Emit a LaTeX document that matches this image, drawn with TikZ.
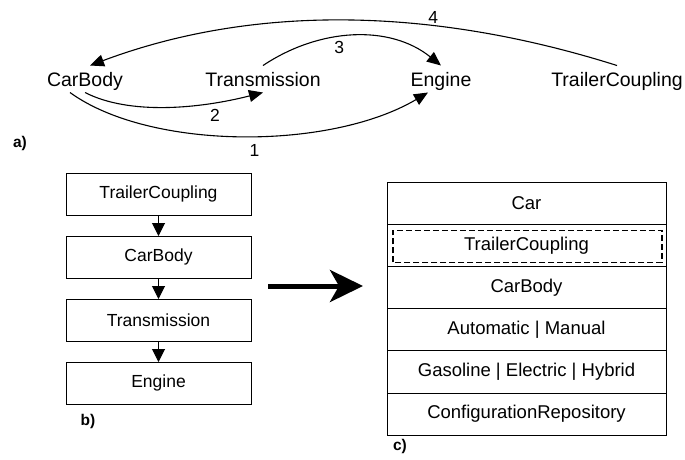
\documentclass[tikz,border=0pt]{standalone}
\usepackage{fontspec}
\setmainfont{Liberation Sans}
\usetikzlibrary{arrows.meta,positioning}

\begin{document}
\begin{tikzpicture}[x=1pt,y=-1pt,line width=1pt,node distance=21pt,
    word/.style={inner xsep=0pt,inner ysep=6pt,text height=14pt,text depth=0pt,font=\fontsize{19.5}{23}\selectfont},
    num/.style={inner sep=1pt,font=\fontsize{17.5}{21}\selectfont},
    dep/.style={line width=1.1pt,-{Triangle[length=14pt,width=12pt]}},
    stackbox/.style={draw,minimum width=185pt,minimum height=42pt,outer sep=0pt,font=\fontsize{17.5}{21}\selectfont},
    stacklink/.style={line width=1pt,-{Triangle[length=13pt,width=13pt]}},
    rowbox/.style={draw,minimum width=279pt,minimum height=42.2pt,outer sep=0pt,font=\fontsize{18.5}{22}\selectfont},
    optbox/.style={draw,dashed,dash pattern=on 6pt off 3pt,line width=1.2pt},
    bigarrow/.style={line width=5pt,-{Stealth[length=33pt,width=32pt,inset=9pt]}},
    sublabel/.style={font=\bfseries\fontsize{15.5}{18}\selectfont}]
  \useasboundingbox (0,0) rectangle (685,459);

  % a) feature dependencies
  \node[word] (CB) at (85,79) {CarBody};
  \node[word] (TR) at (263,79) {Transmission};
  \node[word] (EN) at (441,79) {Engine};
  \node[word] (TC) at (617,79) {TrailerCoupling};
  \node[sublabel] (LA) at (20,143) {a)};

  \draw[dep] ([xshift=-15pt]CB.south) .. controls +(80,58) and +(-98,58) .. ([xshift=-13pt]EN.south)
    node[num,pos=0.53,below=7pt] {1};
  \draw[dep] (CB.south) .. controls +(45,23) and +(-63,16) .. (TR.south)
    node[num,pos=0.75,below=5pt] {2};
  \draw[dep] (TR.north) .. controls +(57,-38) and +(-51,-41) .. (EN.north)
    node[num,pos=0.42,below=3pt] {3};
  \draw[dep] (TC.north) .. controls +(-190,-60) and +(160,-60) .. ([xshift=5pt]CB.north)
    node[num,pos=0.33,above=1pt] {4};

  % b) layer order
  \node[stackbox] (B1) at (158.5,194) {TrailerCoupling};
  \node[stackbox,below=of B1] (B2) {CarBody};
  \node[stackbox,below=of B2] (B3) {Transmission};
  \node[stackbox,below=of B3] (B4) {Engine};
  \node[sublabel] (LB) at (88,421) {b)};

  \path[stacklink]
    (B1) edge (B2)
    (B2) edge (B3)
    (B3) edge (B4);

  % c) resulting stack
  \node[rowbox] (C1) at (526.5,203.1) {Car};
  \node[rowbox,below=0pt of C1] (C2) {TrailerCoupling};
  \node[rowbox,below=0pt of C2] (C3) {CarBody};
  \node[rowbox,below=0pt of C3] (C4) {Automatic | Manual};
  \node[rowbox,below=0pt of C4] (C5) {Gasoline | Electric | Hybrid};
  \node[rowbox,below=0pt of C5] (C6) {ConfigurationRepository};
  \node[sublabel] (LC) at (400,446) {c)};
  \draw[optbox] ([shift={(6pt,4pt)}]C2.south west) rectangle ([shift={(-4pt,-6pt)}]C2.north east);

  \coordinate (AS) at (268,286);
  \draw[bigarrow,shorten >=24pt] (AS) -- (AS -| C3.west);
\end{tikzpicture}
\end{document}
